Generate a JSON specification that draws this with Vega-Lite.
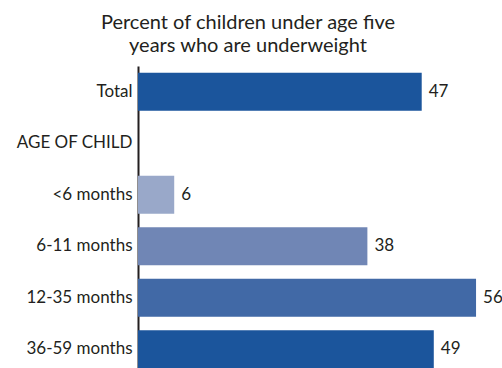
{
  "$schema": "https://vega.github.io/schema/vega-lite/v6.json",
  "width": 364,
  "height": 309,
  "autosize": {"type": "none"},
  "padding": {"left": 138, "top": 66, "right": 0, "bottom": 0},
  "background": "white",
  "title": {
    "text": ["Percent of children under age five", "years who are underweight"],
    "anchor": "middle",
    "frame": "group",
    "dx": -72,
    "offset": 10,
    "font": "Lato",
    "fontSize": 20,
    "fontWeight": "normal",
    "color": "#231f20",
    "lineHeight": 23
  },
  "data": {
    "values": [
      {"group": "Total", "pct": 47},
      {"group": "<6 months", "pct": 6},
      {"group": "6-11 months", "pct": 38},
      {"group": "12-35 months", "pct": 56},
      {"group": "36-59 months", "pct": 49}
    ]
  },
  "config": {"view": {"stroke": null}},
  "encoding": {
    "y": {
      "field": "group",
      "type": "nominal",
      "scale": {
        "domain": ["Total", "AGE OF CHILD", "<6 months", "6-11 months", "12-35 months", "36-59 months"],
        "paddingInner": 0.26,
        "paddingOuter": 0.13
      },
      "axis": {
        "title": null,
        "ticks": false,
        "labelPadding": 6,
        "labelFont": "Lato",
        "labelFontSize": 17,
        "labelColor": "#231f20",
        "domainColor": "#231f20",
        "domainWidth": 2,
        "grid": false
      }
    },
    "x": {
      "field": "pct",
      "type": "quantitative",
      "scale": {"domain": [0, 60.3], "nice": false},
      "axis": null
    }
  },
  "layer": [
    {
      "mark": {"type": "bar"},
      "encoding": {
        "color": {
          "field": "group",
          "type": "nominal",
          "scale": {
            "domain": ["Total", "<6 months", "6-11 months", "12-35 months", "36-59 months"],
            "range": ["#1b559c", "#99a8c9", "#7086b5", "#4169a6", "#1b559c"]
          },
          "legend": null
        }
      }
    },
    {
      "mark": {"type": "text", "align": "left", "dx": 7, "font": "Lato", "fontSize": 17, "color": "#231f20"},
      "encoding": {"text": {"field": "pct", "type": "quantitative"}}
    }
  ]
}
